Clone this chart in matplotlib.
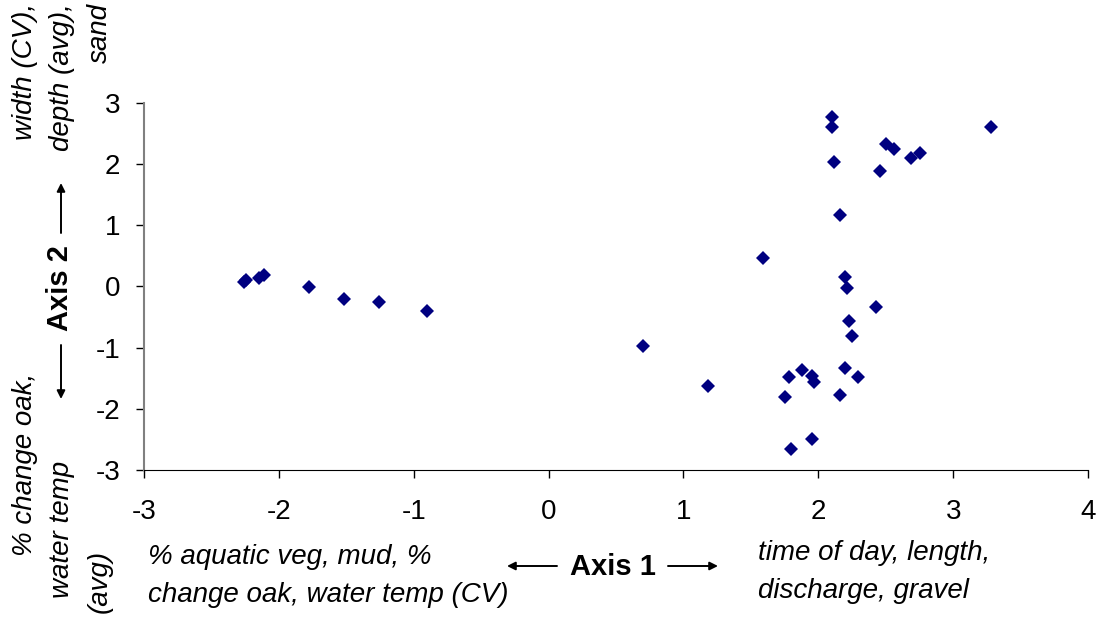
import matplotlib
matplotlib.use("Agg")
import matplotlib.pyplot as plt

# ordination scores
axis1 = [-2.26, -2.24, -2.145, -2.11, -1.78, -1.52, -1.26, -0.90,
         0.70, 1.18, 1.59, 1.75, 1.78, 1.80, 1.88, 1.95, 1.95, 1.97,
         2.10, 2.10, 2.115, 2.16, 2.164, 2.196, 2.196, 2.214, 2.231, 2.248,
         2.295, 2.43, 2.46, 2.50, 2.56, 2.686, 2.757, 3.284]
axis2 = [0.07, 0.10, 0.13, 0.18, -0.01, -0.21, -0.26, -0.40,
         -0.975, -1.63, 0.47, -1.81, -1.48, -2.65, -1.37, -1.47, -2.50, -1.56,
         2.77, 2.61, 2.03, 1.16, -1.77, 0.16, -1.34, -0.02, -0.57, -0.81,
         -1.48, -0.33, 1.89, 2.33, 2.24, 2.10, 2.18, 2.61]

xticks = [-3, -2, -1, 0, 1, 2, 3, 4]
yticks = [-3, -2, -1, 0, 1, 2, 3]

FONT = ["Liberation Sans", "DejaVu Sans"]
plt.rcParams["font.family"] = FONT

W, H = 1096, 617
fig = plt.figure(figsize=(W / 100, H / 100), dpi=100)
ax = fig.add_axes([144 / W, 1 - 470 / H, (1088 - 144) / W, (470 - 102.7) / H])

ax.plot(axis1, axis2, linestyle="none", marker="D", markersize=7.6,
        color="#000080", markeredgewidth=0)

ax.set_xlim(-3, 4)
ax.set_ylim(-3, 3)
ax.set_xticks(xticks)
ax.set_yticks(yticks)
ax.set_xticklabels([str(v) for v in xticks])
ax.set_yticklabels([str(v) for v in yticks])
ax.tick_params(axis="both", direction="out", length=6, width=1, labelsize=20)
ax.tick_params(axis="x", pad=15)
ax.tick_params(axis="y", pad=11)
for s in ["top", "right"]:
    ax.spines[s].set_visible(False)
ax.spines["left"].set_color("#808080")
ax.spines["left"].set_linewidth(1.5)
ax.spines["bottom"].set_color("black")


def fx(px):
    return px / W


def fy(py):
    return 1 - py / H


def arrow(x0, y0, x1, y1):
    fig.add_artist(matplotlib.patches.FancyArrowPatch(
        (fx(x0), fy(y0)), (fx(x1), fy(y1)), transform=fig.transFigure,
        arrowstyle="-|>", mutation_scale=12, lw=1.4, color="black",
        shrinkA=0, shrinkB=0))


# x axis description
fig.text(fx(148), fy(564), "% aquatic veg, mud, %", fontsize=20, style="italic",
         ha="left", va="baseline")
fig.text(fx(148), fy(602), "change oak, water temp (CV)", fontsize=20, style="italic",
         ha="left", va="baseline")
fig.text(fx(758), fy(560), "time of day, length,", fontsize=20, style="italic",
         ha="left", va="baseline")
fig.text(fx(758), fy(598), "discharge, gravel", fontsize=20, style="italic",
         ha="left", va="baseline")
fig.text(fx(613), fy(567), "Axis 1", fontsize=21, weight="bold", ha="center", va="center")
arrow(557, 566, 507, 566)
arrow(668, 566, 718, 566)

# y axis description
for x, txt in [(25, "width (CV),"), (62, "depth (avg),"), (100, "sand")]:
    fig.text(fx(x), fy(3), txt, fontsize=20, style="italic", rotation=90,
             ha="center", va="top")
for x, y, txt in [(25, 556, "% change oak,"), (62, 598, "water temp"), (100, 613, "(avg)")]:
    fig.text(fx(x), fy(y), txt, fontsize=20, style="italic", rotation=90,
             ha="center", va="bottom")
fig.text(fx(60), fy(288), "Axis 2", fontsize=21, weight="bold", rotation=90,
         ha="center", va="center")
arrow(61, 233, 61, 183)
arrow(61, 345, 61, 399)

fig.savefig("out.png", dpi=100)
